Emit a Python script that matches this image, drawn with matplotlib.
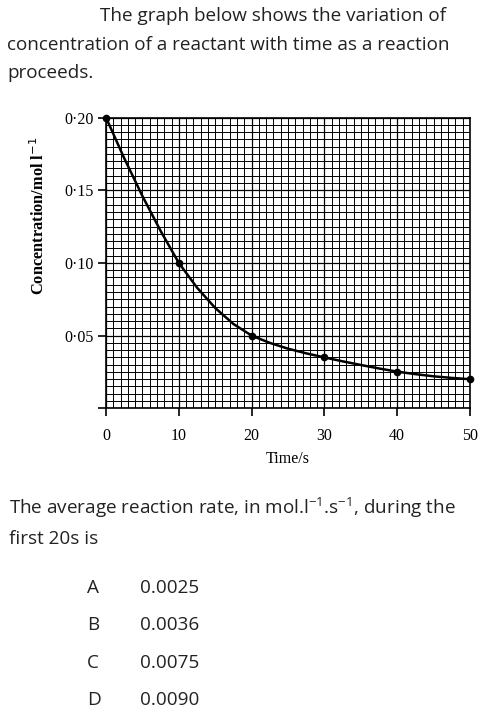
import numpy as np
import matplotlib.pyplot as plt
from matplotlib.ticker import MultipleLocator

# values (time in s, concentration in mol/l)
time_s = [0, 2.5, 5, 7.5, 10, 12.5, 15, 17.5, 20, 22.5, 25, 27.5, 30,
          32.5, 35, 37.5, 40, 42.5, 45, 47.5, 50]
conc = [0.200, 0.172, 0.146, 0.122, 0.100, 0.083, 0.069, 0.058, 0.050,
        0.0450, 0.0410, 0.0378, 0.0350, 0.0323, 0.0298, 0.0274, 0.0252,
        0.0235, 0.0220, 0.0209, 0.0200]

# the dotted points on the curve
dot_time = [0, 10, 20, 30, 40, 50]
dot_conc = [0.200, 0.100, 0.050, 0.035, 0.0252, 0.020]

x_ticks = [0, 10, 20, 30, 40, 50]
y_ticks = [0.0, 0.05, 0.10, 0.15, 0.20]
y_tick_labels = ['', '0·05', '0·10', '0·15', '0·20']

options = ['A', 'B', 'C', 'D']
answers = ['0.0025', '0.0036', '0.0075', '0.0090']

W, H = 492, 715
fig = plt.figure(figsize=(W / 100, H / 100), dpi=100)
fig.patch.set_facecolor('white')


def px(x, y):
    return x / W, 1 - y / H


text_font = ['Open Sans', 'DejaVu Sans']
serif = ['Liberation Serif', 'DejaVu Serif']
txt_col = '#222222'
fs = 13.6

# question text above the graph
fig.text(*px(100, 16), 'The graph below shows the variation of', fontsize=fs,
         family=text_font, va='center', color=txt_col)
fig.text(*px(7, 45), 'concentration of a reactant with time as a reaction', fontsize=fs,
         family=text_font, va='center', color=txt_col)
fig.text(*px(7, 73), 'proceeds.', fontsize=fs, family=text_font, va='center', color=txt_col)

# graph
ax = fig.add_axes([106 / W, 1 - 408.3 / H, (470 - 106) / W, (408.3 - 117.5) / H])
ax.set_xlim(0, 50)
ax.set_ylim(0, 0.20)

ax.xaxis.set_minor_locator(MultipleLocator(1))
ax.yaxis.set_minor_locator(MultipleLocator(0.005))
ax.grid(which='minor', color='black', linewidth=0.7)
ax.grid(which='major', color='black', linewidth=0.9)
ax.tick_params(which='minor', length=0)
ax.tick_params(which='major', length=6, width=1.2, color='black', labelsize=11.5)
ax.set_axisbelow(True)

ax.set_xticks(x_ticks)
ax.set_xticklabels([str(t) for t in x_ticks], family=serif)
ax.set_yticks(y_ticks)
ax.set_yticklabels(y_tick_labels, family=serif)
ax.tick_params(axis='x', pad=8)
ax.tick_params(axis='y', pad=3)

for s in ax.spines.values():
    s.set_linewidth(1.2)

ax.plot(time_s, conc, color='black', linewidth=1.8, solid_capstyle='round',
        solid_joinstyle='round', zorder=5)
ax.plot(dot_time, dot_conc, 'o', color='black', markersize=4.5, zorder=6, clip_on=False)

ax.set_xlabel('Time/s', family=serif, fontsize=11.5, labelpad=5)
ax.set_ylabel(r'Concentration/mol l$^{-1}$', family=serif, fontsize=11.8,
              fontweight='bold')
# label sits above the middle of the axis in the original
ax.yaxis.set_label_coords(-0.16, 0.661)

# question text below the graph
fig.text(*px(9, 508), r'The average reaction rate, in mol.l$^{\mathregular{-1}}$.s$^{\mathregular{-1}}$, during the',
         fontsize=fs, family=text_font, va='center', color=txt_col)
fig.text(*px(9, 539), 'first 20s is', fontsize=fs, family=text_font, va='center', color=txt_col)

row_y = [588, 625, 663, 700]
for letter, value, y in zip(options, answers, row_y):
    fig.text(*px(87, y), letter, fontsize=fs, family=text_font, va='center', color=txt_col)
    fig.text(*px(140, y), value, fontsize=fs, family=text_font, va='center', color=txt_col)

fig.savefig('out.png', dpi=100, facecolor='white')
